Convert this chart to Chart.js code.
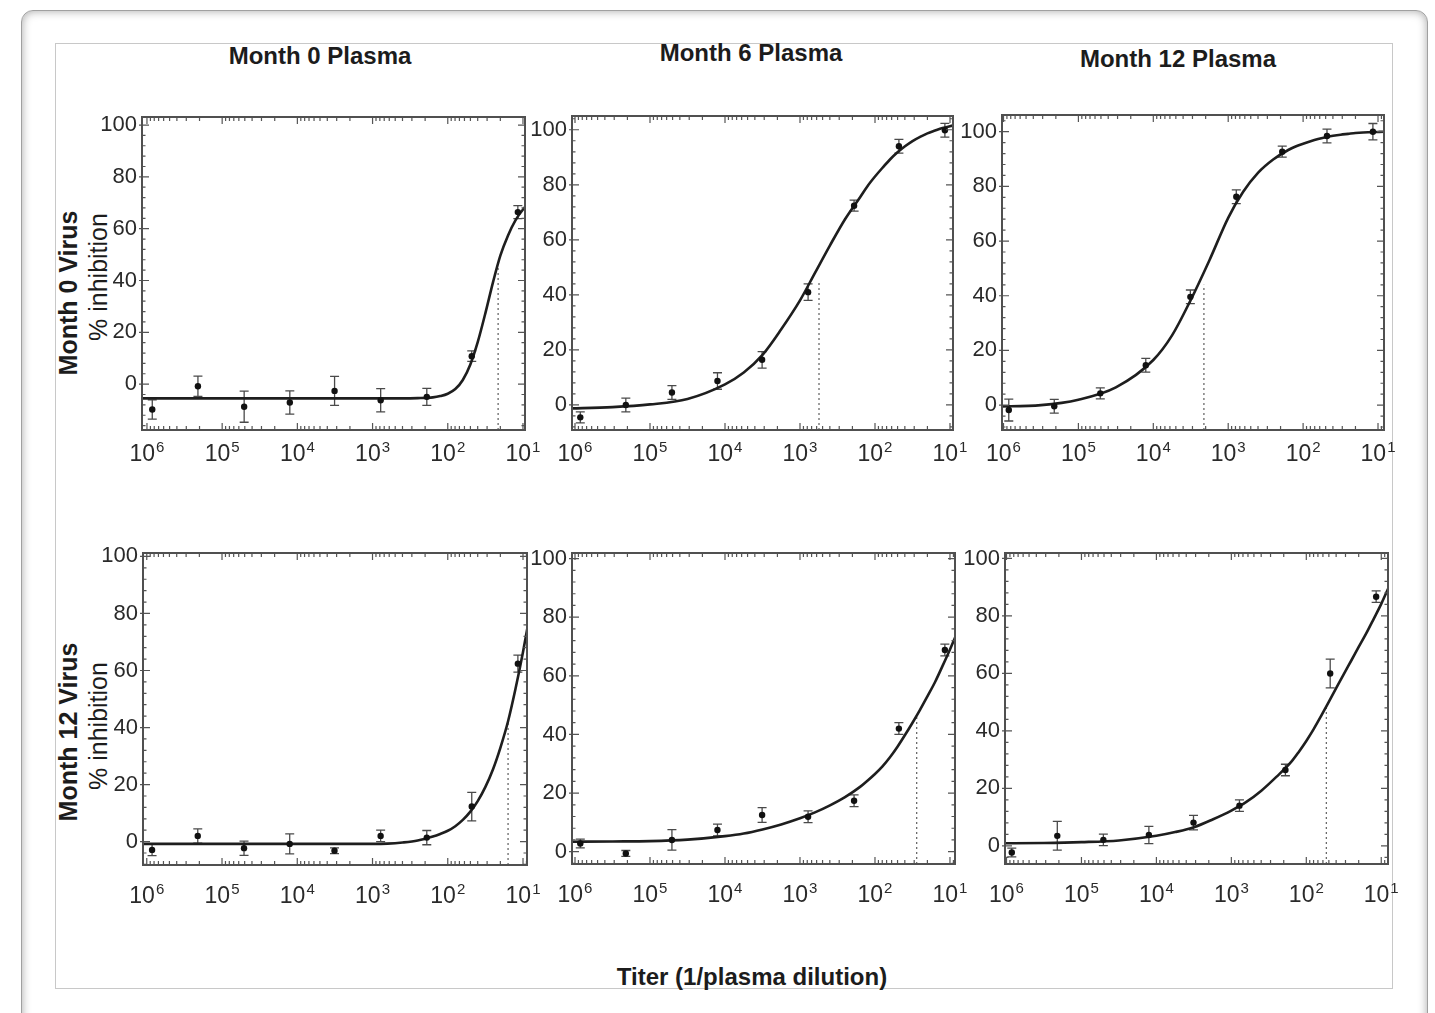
<!DOCTYPE html>
<html><head><meta charset="utf-8">
<script src="https://cdn.jsdelivr.net/npm/chart.js@4.4.1/dist/chart.umd.min.js"></script>
<style>
body{margin:0;width:1435px;height:1013px;overflow:hidden;background:#fff;position:relative;font-family:"Liberation Sans",Arial,sans-serif;}
#outer{position:absolute;left:21px;top:10px;width:1405px;height:1040px;border:1px solid #a0a0a0;border-radius:12px;box-shadow:inset 0 0 10px rgba(0,0,0,0.35);}
#inner{position:absolute;left:55px;top:43px;width:1336px;height:944px;border:1.5px solid #c8c8c8;}
.t{position:absolute;white-space:nowrap;color:#1c1c1c;transform:translate(-50%,-50%);}
.b{font-weight:bold;font-size:24px;}
.rb{font-weight:bold;font-size:25px;transform:translate(-50%,-50%) rotate(-90deg);}
.rn{font-size:25px;transform:translate(-50%,-50%) rotate(-90deg);}
canvas{position:absolute;}
</style></head><body>
<div id="outer"></div>
<div id="inner"></div>
<div class="t b" style="left:320px;top:56px;">Month 0 Plasma</div>
<div class="t b" style="left:751px;top:53px;">Month 6 Plasma</div>
<div class="t b" style="left:1178px;top:59px;">Month 12 Plasma</div>
<div class="t rb" style="left:68px;top:293px;">Month 0 Virus</div>
<div class="t rn" style="left:98px;top:277px;">% inhibition</div>
<div class="t rb" style="left:68px;top:732px;">Month 12 Virus</div>
<div class="t rn" style="left:98px;top:726px;">% inhibition</div>
<div class="t b" style="left:752px;top:977px;">Titer (1/plasma dilution)</div>
<script>
// ---------------- DATA ----------------
const xTickValues = [1e6, 1e5, 1e4, 1e3, 1e2, 1e1];
const xTickBase = '10';
const xTickExps = ['6', '5', '4', '3', '2', '1'];
const yTickValues = [0, 20, 40, 60, 80, 100];

// measured dilutions (titer, 1/plasma dilution), left to right
const titers = [850000, 210000, 51000, 12600, 3200, 780, 190, 48, 11.7];

// % inhibition (mean) and error bar half-lengths, per panel
const m0v_m0p = [-9.8, -0.8, -8.7, -7.1, -2.6, -6.2, -4.9, 10.8, 66.4];
const m0v_m0p_err = [3.7, 3.9, 6, 4.5, 5.6, 4.5, 3.3, 2, 2.5];
const m0v_m6p = [-4.5, 0, 4.5, 8.7, 16.4, 41, 72.4, 94, 99.8];
const m0v_m6p_err = [2, 2.5, 2.5, 3, 3, 3, 2, 2.5, 2.5];
const m0v_m12p = [-1.8, -0.4, 4.3, 14.6, 39.6, 76.2, 92.7, 98.4, 100];
const m0v_m12p_err = [4, 2.5, 2, 2.5, 2.5, 2.5, 2, 2.5, 3];
const m12v_m0p = [-2.9, 2, -2.3, -0.8, -3.2, 2, 1.4, 12.3, 62.4];
const m12v_m0p_err = [2, 2.5, 2.5, 3.5, 1, 2, 2.5, 5, 3];
const m12v_m6p = [2.8, -0.6, 4, 7.4, 12.5, 11.9, 17.4, 42, 68.8];
const m12v_m6p_err = [1.5, 1, 3.5, 2, 2.5, 2, 2, 2, 2];
const m12v_m12p = [-2.3, 3.5, 2.1, 3.8, 8.1, 14, 26.4, 60, 86.7];
const m12v_m12p_err = [1.5, 5, 2, 3, 2.5, 2, 2, 5, 2];

// fitted curve at these titers
const curveTiters = [1260000, 316000, 100000, 31600, 10000, 5620, 3160, 1780, 1000, 631, 398, 251, 158, 126, 100, 79.4, 63.1, 50.1, 39.8, 31.6, 25.1, 20, 15.8, 12.6, 10, 7.94];
const fit_m0v_m0p = [-5.5, -5.5, -5.5, -5.5, -5.5, -5.5, -5.5, -5.5, -5.5, -5.5, -5.5, -5.4, -5.1, -4.6, -3.7, -1.9, 1.6, 7.6, 16.4, 27.4, 39.2, 49.6, 57.4, 63.2, 67.4, 70.4];
const fit_m0v_m6p = [-1.3, -0.8, 0.2, 2.2, 7.5, 11.8, 18.2, 27.5, 38, 48, 58, 67.5, 75.5, 79.5, 83, 86.2, 89.2, 91.8, 94, 95.9, 97.4, 98.7, 99.7, 100.6, 101.3, 101.8];
const fit_m0v_m12p = [-0.5, 0, 2, 6.5, 16.5, 25.5, 38.5, 53, 68.5, 78, 85, 89.8, 93.3, 94.6, 95.6, 96.5, 97.3, 98, 98.5, 98.9, 99.2, 99.5, 99.7, 99.8, 99.9, 100];
const fit_m12v_m0p = [-0.8, -0.8, -0.8, -0.8, -0.8, -0.8, -0.8, -0.8, -0.8, -0.7, -0.3, 0.4, 1.8, 2.7, 3.8, 5.4, 7.6, 10.5, 14.3, 19.2, 25.3, 32.9, 42.2, 53.5, 66.5, 81];
const fit_m12v_m6p = [3.4, 3.5, 3.6, 4.1, 5.3, 6.2, 7.6, 9.3, 11.4, 13.4, 15.8, 18.6, 22.1, 24.2, 26.5, 29.1, 32.2, 35.8, 39.8, 44, 48.4, 53, 57.9, 63.3, 69, 75];
const fit_m12v_m12p = [0.9, 1.0, 1.3, 1.9, 3.5, 4.8, 6.5, 9.2, 12.3, 15.3, 19.2, 24, 29.3, 32.7, 36.5, 40.7, 45.3, 50.1, 55, 59.8, 64.5, 69.2, 74, 79, 84.2, 90];

// IC50 marker (dotted line): titer and height reached
const ic50Titers = [21.4, 558, 2110, 15.8, 27.8, 54];
const ic50Tops = [46, 45, 44, 42, 47, 48];

// ---------------- LAYOUT ----------------
const panels = [
  {vals: m0v_m0p, errs: m0v_m0p_err, fit: fit_m0v_m0p},
  {vals: m0v_m6p, errs: m0v_m6p_err, fit: fit_m0v_m6p},
  {vals: m0v_m12p, errs: m0v_m12p_err, fit: fit_m0v_m12p},
  {vals: m12v_m0p, errs: m12v_m0p_err, fit: fit_m12v_m0p},
  {vals: m12v_m6p, errs: m12v_m6p_err, fit: fit_m12v_m6p},
  {vals: m12v_m12p, errs: m12v_m12p_err, fit: fit_m12v_m12p}
];
// box: [left, top, right, bottom], yRange, xRange (log10 left, log10 right), label baseline offset
const layout = [
  {box: [142, 117, 525, 430], y: [-17.7, 103.1], xl: [6.066, 0.973], lb: 31},
  {box: [572, 116, 953, 430], y: [-9.1, 105], xl: [6.04, 0.96], lb: 31},
  {box: [1002, 115, 1384, 430], y: [-9.1, 106.1], xl: [6.02, 0.92], lb: 31},
  {box: [143, 553, 527, 865], y: [-8.2, 101.2], xl: [6.05, 0.947], lb: 38},
  {box: [572, 553, 955, 864], y: [-4.2, 101.9], xl: [6.04, 0.933], lb: 38},
  {box: [1005, 553, 1388, 864], y: [-6.3, 101.9], xl: [6.02, 0.91], lb: 38}
];
const ML = 70, MT = 15, MR = 35, MB = 50;
const FONT = "'Liberation Sans', Arial, sans-serif";

function makePlugin(p, lay) {
  return {
    id: 'frameTicks',
    beforeDatasetsDraw(chart) {
      const {ctx, scales: {x, y}} = chart;
      ctx.save();
      ctx.strokeStyle = '#4a4a4a';
      ctx.lineWidth = 1.3;
      ctx.beginPath();
      p.vals.forEach((v, k) => {
        const px = x.getPixelForValue(titers[k]);
        const y1 = y.getPixelForValue(v - p.errs[k]);
        const y2 = y.getPixelForValue(v + p.errs[k]);
        ctx.moveTo(px, y1); ctx.lineTo(px, y2);
        ctx.moveTo(px - 4.5, y1); ctx.lineTo(px + 4.5, y1);
        ctx.moveTo(px - 4.5, y2); ctx.lineTo(px + 4.5, y2);
      });
      ctx.stroke();
      ctx.restore();
    },
    afterDraw(chart) {
      const {ctx, chartArea: a, scales: {x, y}} = chart;
      ctx.save();
      ctx.strokeStyle = '#555';
      ctx.lineWidth = 1.2;
      ctx.beginPath();
      for (let v = Math.ceil(y.min / 4) * 4; v <= y.max; v += 4) {
        const py = y.getPixelForValue(v);
        const len = (v % 20 === 0) ? 7 : 3.5;
        ctx.moveTo(a.left, py); ctx.lineTo(a.left + len, py);
        ctx.moveTo(a.right, py); ctx.lineTo(a.right - len, py);
        if (v % 20 === 0) { ctx.moveTo(a.left, py); ctx.lineTo(a.left - 3, py); }
      }
      for (let k = 0; k <= 6; k++) {
        for (let m = 1; m <= 9; m++) {
          const v = m * Math.pow(10, k);
          if (v < x.min || v > x.max) continue;
          const px = x.getPixelForValue(v);
          const len = (m === 1) ? 7 : 4;
          ctx.moveTo(px, a.bottom); ctx.lineTo(px, a.bottom - len);
          ctx.moveTo(px, a.top); ctx.lineTo(px, a.top + len);
        }
      }
      ctx.stroke();
      ctx.strokeStyle = '#505050';
      ctx.lineWidth = 2;
      ctx.strokeRect(a.left, a.top, a.right - a.left, a.bottom - a.top);
      // x tick labels: 10 with superscript exponent
      ctx.fillStyle = '#2a2a2a';
      ctx.textBaseline = 'alphabetic';
      ctx.textAlign = 'left';
      const base = a.bottom + lay.lb;
      xTickValues.forEach((v, k) => {
        const px = x.getPixelForValue(v);
        ctx.font = '23px ' + FONT;
        const w1 = ctx.measureText(xTickBase).width;
        ctx.font = '15px ' + FONT;
        const w2 = ctx.measureText(xTickExps[k]).width;
        const left = px - (w1 + 1 + w2) / 2;
        ctx.font = '23px ' + FONT;
        ctx.fillText(xTickBase, left, base);
        ctx.font = '15px ' + FONT;
        ctx.fillText(xTickExps[k], left + w1 + 1, base - 9);
      });
      ctx.restore();
    }
  };
}

panels.forEach((p, i) => {
  const L = layout[i];
  const w = L.box[2] - L.box[0], h = L.box[3] - L.box[1];
  const cv = document.createElement('canvas');
  cv.width = w + ML + MR; cv.height = h + MT + MB;
  cv.style.left = (L.box[0] - ML) + 'px';
  cv.style.top = (L.box[1] - MT) + 'px';
  cv.style.width = cv.width + 'px'; cv.style.height = cv.height + 'px';
  document.body.appendChild(cv);

  const curve = curveTiters.map((t, k) => ({x: t, y: p.fit[k]}));
  const pts = titers.map((t, k) => ({x: t, y: p.vals[k]}));
  const dotted = [{x: ic50Titers[i], y: L.y[0]}, {x: ic50Titers[i], y: ic50Tops[i]}];

  new Chart(cv, {
    type: 'line',
    data: {
      datasets: [
        {data: dotted, borderColor: '#6a6a6a', borderWidth: 1.3, borderDash: [2, 3], pointRadius: 0, clip: 0, order: 3},
        {data: curve, borderColor: '#1e1e1e', borderWidth: 2.6, pointRadius: 0, cubicInterpolationMode: 'monotone', clip: 0, order: 2},
        {data: pts, showLine: false, pointRadius: 3.2, pointStyle: 'circle', pointBackgroundColor: '#111', pointBorderWidth: 0, clip: 0, order: 1}
      ]
    },
    options: {
      responsive: false, animation: false, devicePixelRatio: 1, events: [],
      layout: {padding: {left: 0, top: MT, right: MR, bottom: 0}},
      plugins: {legend: {display: false}, tooltip: {enabled: false}},
      scales: {
        x: {
          type: 'logarithmic', reverse: true,
          min: Math.pow(10, L.xl[1]), max: Math.pow(10, L.xl[0]),
          afterBuildTicks: s => { s.ticks = xTickValues.map(v => ({value: v})); },
          afterFit: s => { s.height = MB; s.paddingLeft = 0; s.paddingRight = 0; },
          grid: {display: false, drawTicks: false}, border: {display: false},
          ticks: {display: false, autoSkip: false, maxRotation: 0, minRotation: 0}
        },
        y: {
          type: 'linear', min: L.y[0], max: L.y[1],
          afterBuildTicks: s => { s.ticks = yTickValues.map(v => ({value: v})); },
          afterFit: s => { s.width = ML; s.paddingTop = 0; s.paddingBottom = 0; },
          grid: {display: false, drawTicks: false}, border: {display: false},
          ticks: {padding: 5, color: '#2a2a2a', font: {family: FONT, size: 22}}
        }
      }
    },
    plugins: [makePlugin(p, L)]
  });
});
</script>
</body></html>
